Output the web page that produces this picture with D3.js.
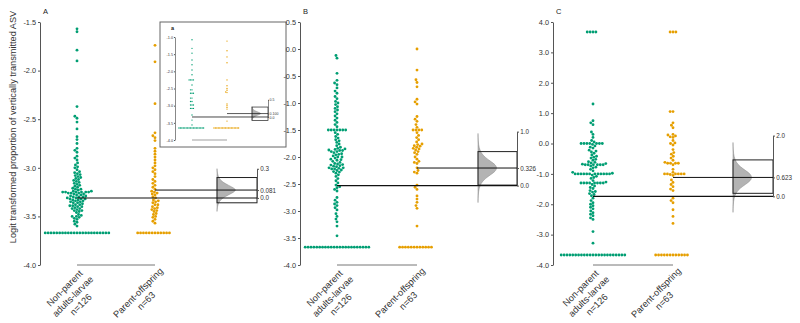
<!DOCTYPE html>
<html><head><meta charset="utf-8">
<script src="https://cdn.jsdelivr.net/npm/d3@7"></script>
<style>body{margin:0;background:#fff}svg{display:block}text{font-family:"Liberation Sans",Arial,sans-serif}</style>
</head><body><svg id="c" width="800" height="323"></svg>
<script>
// ---------------- DATA ----------------
const groupLabels = [["Non-parent","adults-larvae","n=126"],["Parent-offspring","n=63"]];
const yTitle = "Logit transformed proportion of vertically transmitted ASV";
const panelLetters = ["A","B","C"];
const yDomains = [[-4,-1.5],[-4,0.5],[-4,4]];
const yTicksA = [-4,-3.5,-3,-2.5,-2,-1.5];
const yTicksB = [-4,-3.5,-3,-2.5,-2,-1.5,-1,-0.5,0,0.5];
const yTicksC = [-4,-3,-2,-1,0,1,2,3,4];
const greenMeans = [-3.31,-2.53,-1.74];
const meanDiffs = [0.081,0.326,0.623];
const diffTicks = [[0,0.081,0.3],[0,0.326,1.0],[0,0.623,2.0]];
const diffTickLabels = [["0.0","0.081","0.3"],["0.0","0.326","1.0"],["0.0","0.623","2.0"]];
const ciLow = [-0.05,0.01,0.10];
const ciHigh = [0.21,0.63,1.20];
// bootstrap density (offset from mean difference, relative density)
const violinOffA = [-0.22,-0.17,-0.12,-0.08,-0.05,-0.02,0,0.02,0.05,0.08,0.12,0.17,0.22];
const violinDenA = [0,0.02,0.1,0.3,0.6,0.9,1,0.9,0.6,0.3,0.1,0.02,0];
const violinOffB = [-0.64,-0.5,-0.38,-0.28,-0.2,-0.12,-0.06,0,0.06,0.12,0.2,0.28,0.38,0.5,0.64];
const violinDenB = [0,0.01,0.05,0.16,0.36,0.68,0.92,1,0.92,0.68,0.36,0.16,0.05,0.01,0];
const violinOffC = [-1.15,-0.9,-0.68,-0.5,-0.36,-0.22,-0.11,0,0.11,0.22,0.36,0.5,0.68,0.9,1.15];
const violinDenC = [0,0.01,0.05,0.16,0.36,0.68,0.92,1,0.92,0.68,0.36,0.16,0.05,0.01,0];

const greenA = [-1.57,-1.60,-1.79,-1.90,-2.37,-2.47,-2.49,-2.53,-2.60,-2.68,-2.71,-2.75,-2.80,-2.82,-2.84,
-2.88,-2.90,-2.92,-2.95,-2.97,-2.99,-3.00,-3.02,
-3.05,-3.06,-3.08,-3.09,-3.10,-3.11,-3.12,-3.13,-3.14,-3.15,-3.16,-3.18,
-3.20,-3.21,-3.22,-3.23,-3.24,-3.25,-3.25,-3.25,-3.25,-3.25,-3.25,-3.26,-3.26,-3.27,-3.28,
-3.29,-3.30,-3.30,-3.31,-3.31,-3.32,-3.32,-3.33,-3.33,-3.34,-3.34,-3.35,-3.35,-3.36,-3.37,
-3.38,-3.38,-3.39,-3.40,-3.40,-3.41,-3.42,-3.42,-3.43,-3.44,-3.45,-3.46,
-3.48,-3.49,-3.50,-3.50,-3.51,-3.52,-3.53,-3.55,-3.56,-3.58,-3.60,
-3.04,-3.07,-3.17,-3.19,-3.22,-3.24,-3.27,-3.29,-3.36,-3.39,-3.44,
-3.26,-3.28,-3.32,-3.30,
-3.67,-3.67,-3.67,-3.67,-3.67,-3.67,-3.67,-3.67,-3.67,-3.67,-3.67,-3.67,
-3.67,-3.67,-3.67,-3.67,-3.67,-3.67,-3.67,-3.67,-3.67,-3.67,-3.67];
const orangeA = [-1.74,-1.91,-2.34,-2.64,-2.67,-2.69,-2.72,-2.80,-2.83,-2.86,-2.89,-2.92,-2.95,-2.98,-3.00,
-3.02,-3.04,-3.06,-3.09,-3.12,-3.14,-3.16,-3.18,-3.20,-3.22,-3.24,-3.25,-3.26,-3.28,-3.30,-3.31,-3.33,
-3.35,-3.36,-3.38,-3.40,-3.41,-3.42,-3.44,-3.45,-3.47,-3.48,-3.50,-3.51,-3.53,-3.55,-3.57,-3.38,-3.43,
-3.27,-3.34,
-3.67,-3.67,-3.67,-3.67,-3.67,-3.67,-3.67,-3.67,-3.67,-3.67,-3.67,-3.67];
const greenB = [-0.12,-0.17,-0.45,-0.58,-0.63,-0.66,-0.72,-0.78,-0.82,-0.88,-0.92,-0.97,-1.00,-1.03,-1.07,
-1.10,-1.13,-1.16,-1.20,-1.24,-1.28,-1.32,-1.36,-1.40,-1.44,
-1.50,-1.50,-1.50,-1.50,-1.50,-1.50,-1.50,
-1.55,-1.58,-1.62,-1.65,-1.68,-1.70,-1.73,-1.76,-1.79,-1.82,-1.84,-1.86,-1.87,-1.88,-1.90,-1.90,-1.92,-1.94,-1.96,-1.98,
-2.00,-2.02,-2.04,-2.06,-2.08,-2.10,-2.12,-2.13,-2.15,-2.17,-2.18,-2.20,-2.20,-2.22,-2.24,-2.25,-2.27,-2.30,
-2.33,-2.36,-2.40,-2.44,-2.48,-2.52,-2.55,-2.57,-2.60,-2.63,
-2.75,-2.80,-2.84,-2.87,-2.90,-2.94,-2.98,-3.05,-3.10,-3.15,-3.20,-3.28,-3.46,
-1.85,-2.05,-2.21,-2.16,-1.95,-2.28,
-2.00,-2.22,-1.88,-2.14,
-3.67,-3.67,-3.67,-3.67,-3.67,-3.67,-3.67,-3.67,-3.67,-3.67,-3.67,-3.67,
-3.67,-3.67,-3.67,-3.67,-3.67,-3.67,-3.67,-3.67,-3.67,-3.67,-3.67];
const orangeB = [0.00,-0.39,-0.57,-0.62,-0.70,-0.93,-0.98,-1.02,-1.25,-1.30,-1.34,-1.40,-1.45,
-1.50,-1.50,-1.50,-1.50,-1.55,-1.60,-1.64,-1.68,-1.72,-1.76,-1.79,-1.80,-1.82,-1.85,-1.87,-1.90,-1.92,
-1.95,-2.00,-2.04,-2.08,-2.12,-2.20,-2.25,-2.28,-2.52,-2.56,-2.60,-2.72,-2.78,-2.84,-2.90,-2.95,-3.28,
-1.77,-2.30,-1.84,-2.10,
-3.67,-3.67,-3.67,-3.67,-3.67,-3.67,-3.67,-3.67,-3.67,-3.67,-3.67,-3.67];
const greenC = [3.67,3.67,3.67,3.67,
1.30,0.75,0.68,0.62,0.38,0.30,0.20,0.10,0.05,
0.00,0.00,0.00,0.00,0.00,0.00,0.00,
-0.08,-0.15,-0.22,-0.28,-0.32,-0.38,-0.42,-0.48,-0.55,-0.60,
-0.66,-0.68,-0.70,-0.70,-0.70,-0.70,-0.70,-0.70,-0.74,-0.78,-0.85,-0.90,-0.95,
-1.00,-1.00,-1.00,-1.00,-1.00,-1.00,-1.00,-1.00,-1.00,-1.00,-1.00,-1.00,
-1.08,-1.15,-1.22,
-1.30,-1.30,-1.30,-1.30,-1.30,-1.30,-1.30,-1.30,
-1.40,-1.48,-1.55,-1.60,-1.65,-1.72,-1.80,-1.88,-1.95,-2.00,-2.05,
-2.15,-2.22,-2.28,-2.33,-2.38,-2.45,-2.50,-2.90,-3.28,
-0.12,-0.25,-0.45,-0.52,-0.62,-0.80,-1.04,-1.12,-1.35,-1.45,-1.58,-1.68,-2.10,
-0.98,-0.64,-1.27,-0.03,
-3.67,-3.67,-3.67,-3.67,-3.67,-3.67,-3.67,-3.67,-3.67,-3.67,-3.67,-3.67,
-3.67,-3.67,-3.67,-3.67,-3.67,-3.67,-3.67,-3.67,-3.67,-3.67,-3.67];
const orangeC = [3.67,3.67,3.67,
1.05,1.05,0.68,0.60,0.52,0.30,0.28,0.25,0.22,0.20,0.10,0.02,0.00,-0.05,-0.20,-0.35,-0.42,-0.48,-0.55,
-0.65,-0.65,-0.65,-0.65,-0.70,-0.85,-0.95,-1.00,-1.00,-1.00,-1.00,-1.00,-1.00,-1.05,-1.20,-1.28,-1.35,
-1.42,-1.50,-1.55,-1.80,-1.88,-1.95,-2.18,-2.40,-2.63,-0.30,
-0.62,-1.02,
-3.67,-3.67,-3.67,-3.67,-3.67,-3.67,-3.67,-3.67,-3.67,-3.67,-3.67,-3.67];

// inset "a"
const insetLetter = "a";
const insetDomain = [-4,-1];
const insetTicks = [-4,-3.5,-3,-2.5,-2,-1.5,-1];
const insetGreen = [-1.08,-1.33,-1.47,-1.67,-1.81,-1.96,-2.10,-2.25,-2.25,-2.25,-2.25,-2.40,-2.54,-2.54,
-2.64,-2.64,-2.64,-2.78,-2.78,-2.88,-2.88,-2.98,-2.98,-2.98,-3.08,-3.08,-3.08,-3.27,-3.42,-3.56,
-3.65,-3.65,-3.65,-3.65,-3.65,-3.65,-3.65,-3.65,-3.65,-3.65,-3.65,-3.65,-3.65,-3.65,-3.65,-3.65,-3.65,-3.65];
const insetOrange = [-1.12,-1.40,-1.58,-1.75,-2.25,-2.42,-2.50,-2.55,-2.60,-2.62,-2.95,-3.00,-3.05,-3.10,-3.45,
-3.65,-3.65,-3.65,-3.65,-3.65,-3.65,-3.65,-3.65,-3.65,-3.65,-3.65,-3.65,-3.65,-3.65,-3.65,-3.65,-3.65,-3.65];
const insetGreenMean = -3.33;
const insetDiff = 0.100;
const insetDiffTicks = [0,0.1,0.5];
const insetDiffLabels = ["0.0","0.100","0.5"];
const insetCI = [-0.1,0.29];
const insetViolinOff = [-0.2,-0.14,-0.09,-0.05,-0.02,0,0.02,0.05,0.09,0.14,0.2];
const insetViolinDen = [0,0.05,0.25,0.6,0.9,1,0.9,0.6,0.25,0.05,0];

// ---------------- DRAW ----------------
const GREEN = "#009E73", ORANGE = "#E69F00";
const svg = d3.select("#c");
const layout = [
  {ax:40, gx:77, ox:155, vx:217, rx:257},
  {ax:300, gx:337, ox:417, vx:478, rx:517},
  {ax:553, gx:593, ox:673, vx:733, rx:773}
];
const panelData = [[greenA,orangeA],[greenB,orangeB],[greenC,orangeC]];
const yTickSets = [yTicksA,yTicksB,yTicksC];
const violins = [[violinOffA,violinDenA],[violinOffB,violinDenB],[violinOffC,violinDenC]];

function swarm(vals, y, d){
  const pts = vals.map(v=>({v, y:y(v)})).sort((a,b)=>b.y-a.y);
  const placed=[];
  for(const p of pts){
    const cands=[0];
    for(const q of placed){
      const dy=Math.abs(q.y-p.y);
      if(dy<d){const dx=Math.sqrt(d*d-dy*dy); cands.push(q.dx+dx,q.dx-dx);}
    }
    cands.sort((a,b)=>Math.abs(a)-Math.abs(b)||a-b);
    for(const c of cands){
      let ok=true;
      for(const q of placed){const dy=q.y-p.y,dx=q.dx-c; if(dx*dx+dy*dy<d*d-1e-6){ok=false;break;}}
      if(ok){p.dx=c;break;}
    }
    placed.push(p);
  }
  return placed;
}

function styleAxis(g, fs){
  g.selectAll("path.domain").attr("stroke","#555").attr("stroke-width",1);
  g.selectAll(".tick line").attr("stroke","#555");
  g.selectAll(".tick text").attr("fill","#333").style("font-size",fs+"px")
    .style("font-family","'Liberation Sans',Arial,sans-serif");
}

function drawPlot(root, L, yDom, ticks, yRange, data, gm, diff, dTicks, dLabels, ci, vOff, vDen, opt){
  const y = d3.scaleLinear().domain(yDom).range(yRange);
  const ya = root.append("g").attr("transform",`translate(${L.ax},0)`)
    .call(d3.axisLeft(y).tickValues(ticks).tickFormat(d=>d.toFixed(1)).tickSize(opt.tick).tickSizeOuter(0).tickPadding(opt.pad));
  styleAxis(ya, opt.fs);
  ya.select("path.domain").attr("stroke-width",opt.lw);
  // bottom group line
  root.append("line").attr("x1",L.gx).attr("x2",L.ox).attr("y1",y(yDom[0])).attr("y2",y(yDom[0]))
    .attr("stroke","#777").attr("stroke-width",opt.lw);
  // swarms
  [[data[0],L.gx,GREEN],[data[1],L.ox,ORANGE]].forEach(([vals,cx,col])=>{
    const pts = swarm(vals,y,opt.r*2+0.05);
    root.append("g").selectAll("circle").data(pts).join("circle")
      .attr("cx",d=>cx+d.dx).attr("cy",d=>d.y).attr("r",opt.r).attr("fill",col);
  });
  // violin
  const yd = v=>y(gm+diff+v);
  const vd = vOff.map((o,i)=>({o,d:vDen[i]}));
  root.append("path").datum(vd)
    .attr("d",d3.area().curve(d3.curveBasis).y(d=>yd(d.o)).x0(L.vx).x1(d=>L.vx+d.d*opt.vw))
    .attr("fill","#b3b3b3").attr("stroke","#8a8a8a").attr("stroke-width",0.5);
  // CI rect
  root.append("rect").attr("x",L.vx).attr("width",L.rx-L.vx)
    .attr("y",y(gm+ci[1])).attr("height",y(gm+ci[0])-y(gm+ci[1]))
    .attr("fill","none").attr("stroke","#222").attr("stroke-width",opt.lw);
  // mean lines
  root.append("line").attr("x1",L.gx).attr("x2",L.rx).attr("y1",y(gm)).attr("y2",y(gm))
    .attr("stroke","#111").attr("stroke-width",opt.lw*1.1);
  root.append("line").attr("x1",L.ox).attr("x2",L.rx).attr("y1",y(gm+diff)).attr("y2",y(gm+diff))
    .attr("stroke","#111").attr("stroke-width",opt.lw);
  // right axis
  const top = d3.max(dTicks);
  const yr = d3.scaleLinear().domain([0,top]).range([y(gm),y(gm+top)]);
  const ra = root.append("g").attr("transform",`translate(${L.rx},0)`)
    .call(d3.axisRight(yr).tickValues(dTicks).tickFormat((d,i)=>dLabels[i]).tickSize(opt.tick).tickSizeOuter(0).tickPadding(opt.pad*0.6));
  styleAxis(ra, opt.rfs);
  ra.select("path.domain").attr("stroke-width",opt.lw);
  return y;
}

layout.forEach((L,p)=>{
  const root = svg.append("g");
  drawPlot(root, L, yDomains[p], yTickSets[p], [265,22], panelData[p], greenMeans[p], meanDiffs[p],
    diffTicks[p], diffTickLabels[p], [ciLow[p],ciHigh[p]], violins[p][0], violins[p][1],
    {r:1.42, fs:7.3, rfs:6.3, tick:2, pad:2, lw:1, vw:19});
  root.append("text").attr("x",L.ax+3).attr("y",14).attr("font-size",7.5).attr("fill","#222").text(panelLetters[p]);
  // x labels
  [L.gx,L.ox].forEach((tx,gi)=>{
    const g = root.append("g").attr("transform",`translate(${tx+3},${266}) rotate(-45)`);
    const lines = groupLabels[gi];
    const ts = lines.map((s,i)=>g.append("text").attr("font-size",9.3).attr("fill","#333")
      .attr("text-anchor","middle").attr("y",8+i*11.5).text(s));
    const w = d3.max(ts.map(t=>t.node().getComputedTextLength()));
    ts.forEach(t=>t.attr("x",-w/2));
  });
  if(p===0){
    // inset
    const inset = root.append("g");
    inset.append("rect").attr("x",160).attr("y",22).attr("width",126).attr("height",125)
      .attr("fill","#fff").attr("stroke","#666").attr("stroke-width",1);
    drawPlot(inset, {ax:175,gx:192,ox:227,vx:252,rx:268}, insetDomain, insetTicks, [140,37],
      [insetGreen,insetOrange], insetGreenMean, insetDiff, insetDiffTicks, insetDiffLabels, insetCI,
      insetViolinOff, insetViolinDen, {r:0.7, fs:3.8, rfs:3.5, tick:1, pad:1, lw:0.7, vw:9});
    inset.append("text").attr("x",171).attr("y",30).attr("font-size",5.5).attr("font-weight","bold")
      .attr("fill","#222").text(insetLetter);
  }
});

svg.append("text").attr("transform","translate(16,127) rotate(-90)").attr("text-anchor","middle")
  .attr("font-size",9.2).attr("fill","#333").text(yTitle);
</script></body></html>
